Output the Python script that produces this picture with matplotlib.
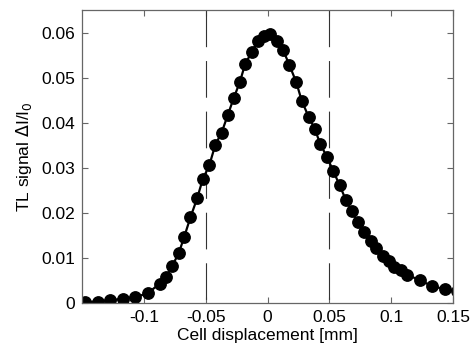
import matplotlib
matplotlib.use("Agg")
import matplotlib.pyplot as plt

# TL signal vs cell displacement
disp_mm = [-0.1475, -0.1373, -0.1272, -0.1169, -0.1070, -0.0970, -0.0871, -0.0817,
           -0.0773, -0.0718, -0.0674, -0.0623, -0.0569, -0.0523, -0.0471, -0.0422,
           -0.0371, -0.0321, -0.0274, -0.0224, -0.0180, -0.0126, -0.0078, -0.0032,
           0.0022, 0.0076, 0.0126, 0.0175, 0.0232, 0.0276, 0.0332, 0.0382,
           0.0426, 0.0480, 0.0531, 0.0583, 0.0634, 0.0684, 0.0730, 0.0781,
           0.0833, 0.0878, 0.0932, 0.0984, 0.1025, 0.1077, 0.1128, 0.1230,
           0.1328, 0.1432, 0.1535]
tl_signal = [0.0002, 0.0003, 0.0006, 0.0009, 0.0013, 0.0021, 0.0043, 0.0057,
             0.0081, 0.0110, 0.0146, 0.0190, 0.0232, 0.0275, 0.0305, 0.0351,
             0.0378, 0.0417, 0.0454, 0.0490, 0.0531, 0.0557, 0.0582, 0.0593,
             0.0597, 0.0582, 0.0561, 0.0529, 0.0490, 0.0449, 0.0413, 0.0386,
             0.0353, 0.0324, 0.0293, 0.0261, 0.0228, 0.0203, 0.0179, 0.0157,
             0.0138, 0.0121, 0.0105, 0.0093, 0.0080, 0.0074, 0.0063, 0.0050,
             0.0038, 0.0030, 0.0026]
xticks = [-0.1, -0.05, 0, 0.05, 0.1, 0.15]
xticklabels = ["-0.1", "-0.05", "0", "0.05", "0.1", "0.15"]
yticks = [0, 0.01, 0.02, 0.03, 0.04, 0.05, 0.06]
yticklabels = ["0", "0.01", "0.02", "0.03", "0.04", "0.05", "0.06"]
marks = [-0.05, 0.05]

plt.rcParams['font.family'] = ['Liberation Sans', 'DejaVu Sans']

fig = plt.figure(figsize=(4.71, 3.45), dpi=100)
ax = fig.add_axes([0.174, 0.122, 0.788, 0.849])

for m in marks:
    ax.axvline(m, ymin=1, ymax=0, color="#333333", lw=0.8, dashes=(33, 12.5))

ax.plot(disp_mm, tl_signal, "-o", color="black", lw=1.6, ms=8.2,
        markerfacecolor="black", markeredgecolor="black")

ax.set_xlim(-0.15, 0.15)
ax.set_ylim(0, 0.065)
ax.set_xticks(xticks)
ax.set_xticklabels(xticklabels)
ax.set_yticks(yticks)
ax.set_yticklabels(yticklabels)
ax.tick_params(direction="in", length=4, width=0.8, color="#666666",
               top=True, right=True, labelsize=12.5, pad=5)
for s in ax.spines.values():
    s.set_color("#666666")
    s.set_linewidth(0.9)

ax.set_xlabel("Cell displacement [mm]", fontsize=12.5, labelpad=2)
ax.set_ylabel(r"TL signal $\Delta$I/I$_0$", fontsize=12.5, labelpad=5)

fig.savefig("out.png", dpi=100)
